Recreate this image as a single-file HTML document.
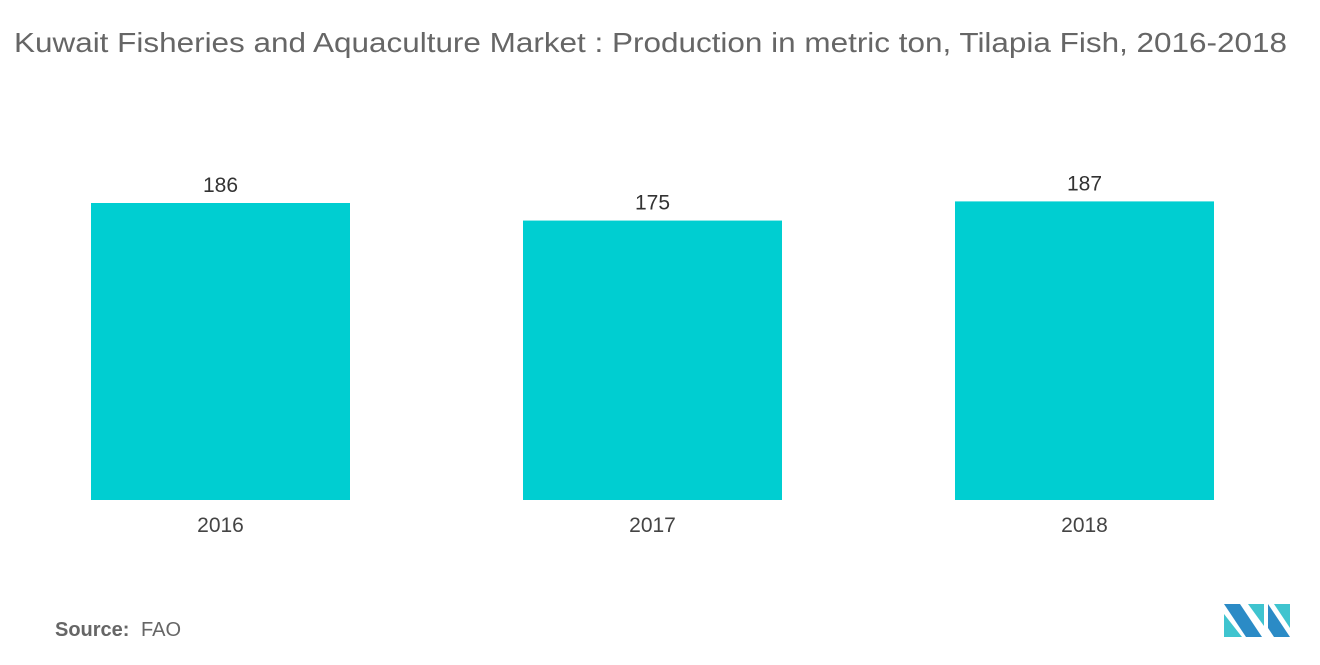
<!DOCTYPE html>
<html><head><meta charset="utf-8"><style>
body{margin:0;width:1320px;height:665px;background:#fff;font-family:"Liberation Sans",sans-serif;overflow:hidden}
svg{position:absolute;left:0;top:0}
</style></head><body>
<svg width="1320" height="665">
<text x="14" y="52" font-size="28" fill="#666" textLength="1273" lengthAdjust="spacingAndGlyphs">Kuwait Fisheries and Aquaculture Market : Production in metric ton, Tilapia Fish, 2016-2018</text>
<g id="bars"></g>
<text x="55" y="636" font-size="20" fill="#666" font-weight="bold">Source:</text>
<text x="141" y="636" font-size="20" fill="#666">FAO</text>
<g>
<polygon points="1224,604 1240,604 1262,637 1246,637" fill="#2b8bc6"/>
<polygon points="1224,614 1242,637 1224,637" fill="#3fc4cf"/>
<polygon points="1248,604 1264,604 1264,626" fill="#3fc4cf"/>
<polygon points="1268,604 1290,637 1274,637 1268,628" fill="#2b8bc6"/>
<polygon points="1274,604 1290,604 1290,628" fill="#3fc4cf"/>
</g>
</svg>
<script>
const categories=["2016","2017","2018"];
const values=[186,175,187];
const g=document.getElementById('bars');
const ns="http://www.w3.org/2000/svg";
const base=500, k=297/186;
const y=v=>base-v*k;
const x=i=>91+i*432;
categories.forEach((c,i)=>{
 const r=document.createElementNS(ns,'rect');
 
 
 r.setAttribute('x',x(i));r.setAttribute('y',y(values[i]));
 r.setAttribute('width',259);r.setAttribute('height',base-y(values[i]));
 r.setAttribute('fill','#00ced1');g.appendChild(r);
 const t=document.createElementNS(ns,'text');
 
 
 t.setAttribute('x',x(i)+129.5);t.setAttribute('y',y(values[i])-11);
 t.setAttribute('text-anchor','middle');t.setAttribute('font-size','21');t.setAttribute('fill','#333');
 t.textContent=values[i];g.appendChild(t);
 const l=document.createElementNS(ns,'text');
 
 
 l.setAttribute('x',x(i)+129.5);l.setAttribute('y',532);
 l.setAttribute('text-anchor','middle');l.setAttribute('font-size','21');l.setAttribute('fill','#444');
 l.textContent=c;g.appendChild(l);
});
</script>
</body></html>
